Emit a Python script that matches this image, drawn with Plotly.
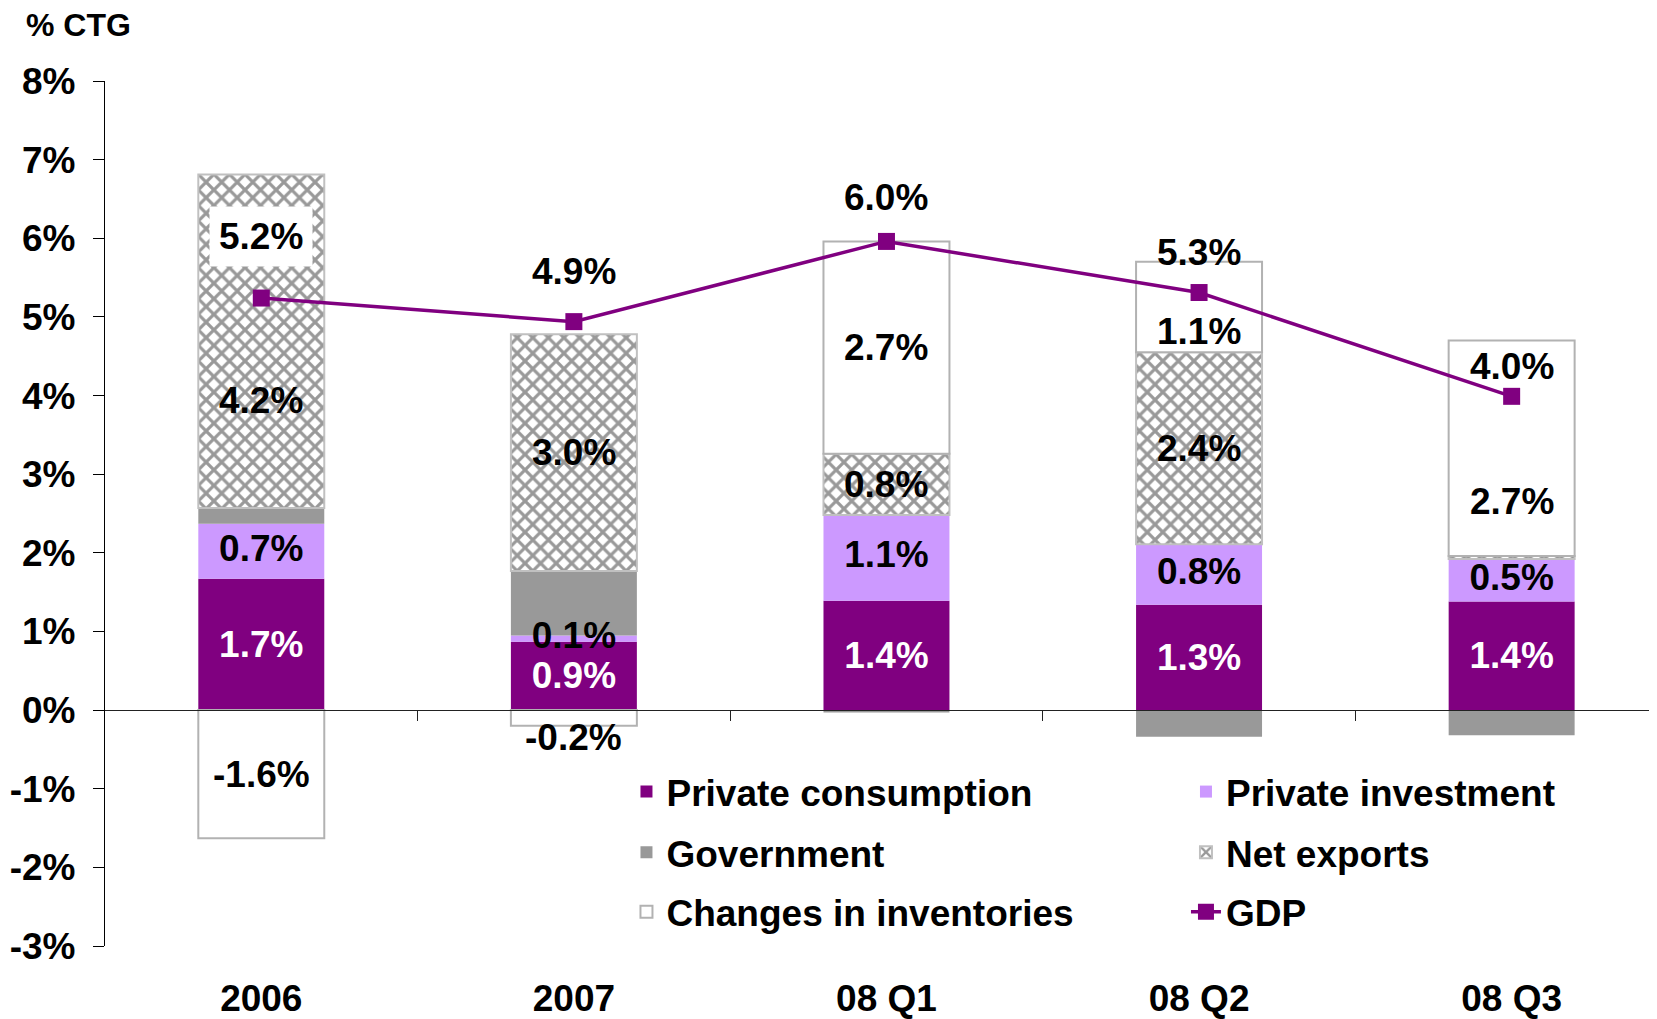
import plotly.graph_objects as go

# ---------------- data ----------------
categories = ["2006", "2007", "08 Q1", "08 Q2", "08 Q3"]
private_consumption = [1.67, 0.87, 1.39, 1.34, 1.38]
private_investment = [0.70, 0.08, 1.09, 0.77, 0.54]
government = [0.20, 0.82, -0.03, -0.34, -0.32]
net_exports = [4.24, 3.01, 0.78, 2.44, 0.04]
inventories = [-1.63, -0.20, 2.70, 1.15, 2.74]
gdp = [5.24, 4.94, 5.96, 5.31, 3.99]

y_tick_values = [-3, -2, -1, 0, 1, 2, 3, 4, 5, 6, 7, 8]
y_tick_labels = ["-3%", "-2%", "-1%", "0%", "1%", "2%", "3%", "4%", "5%", "6%", "7%", "8%"]

# ---------------- style ----------------
FONT = "Liberation Sans, Arial, sans-serif"
FS = 37
PURPLE = "#800080"
LILAC = "#CC99FF"
GREY = "#999999"

# label nudges in px (positive = up), mimicking the original label placement
gdp_label_shift = [62, 50, 44, 40, 30]
gdp_label_bg = ["white", "rgba(0,0,0,0)", "rgba(0,0,0,0)", "rgba(0,0,0,0)", "rgba(0,0,0,0)"]
nx_label_shift = [-59, 0, 0, 0, 0]
inv_label_shift = [0, -20, 0, -24, -53]


def labels(values):
    return ["" if abs(v) < 0.05 else f"{v:.1f}%" for v in values]


def bfont(color="black", size=FS):
    return dict(family=FONT, size=size, color=color, weight="bold")


def segment_centres(stack):
    """Centre of every segment of a relative (pos/neg) stacked bar chart."""
    n = len(stack[0])
    pos, neg = [0.0] * n, [0.0] * n
    out = []
    for series in stack:
        centres = []
        for i, v in enumerate(series):
            if v >= 0:
                centres.append(pos[i] + v / 2)
                pos[i] += v
            else:
                centres.append(neg[i] + v / 2)
                neg[i] += v
        out.append(centres)
    return out


stack = [private_consumption, private_investment, government, net_exports, inventories]
c_pc, c_pi, c_gov, c_nx, c_inv = segment_centres(stack)

idx = list(range(len(categories)))
fig = go.Figure()

common = dict(x=categories, constraintext="none", textangle=0,
              insidetextanchor="middle", hoverinfo="skip", cliponaxis=False)

fig.add_trace(go.Bar(name="Private consumption", y=private_consumption,
                     text=labels(private_consumption), textposition="inside",
                     insidetextfont=bfont("white"),
                     marker=dict(color=PURPLE, line=dict(width=0)),
                     legend="legend", **common))
fig.add_trace(go.Bar(name="Private investment", y=private_investment,
                     marker=dict(color=LILAC, line=dict(width=0)),
                     legend="legend2", **common))
fig.add_trace(go.Bar(name="Government", y=government,
                     marker=dict(color=GREY, line=dict(width=0)),
                     legend="legend3", **common))
fig.add_trace(go.Bar(name="Net exports", y=net_exports,
                     marker=dict(color="white",
                                 pattern=dict(shape="x", fgcolor=GREY, bgcolor="white",
                                              fgopacity=1, size=11, solidity=0.5,
                                              fillmode="overlay"),
                                 line=dict(color="#c0c0c0", width=2)),
                     legend="legend4", **common))
fig.add_trace(go.Bar(name="Changes in inventories", y=inventories,
                     marker=dict(color="white", line=dict(color="#b2b2b2", width=2)),
                     legend="legend5", **common))
fig.add_trace(go.Scatter(name="GDP", x=categories, y=gdp, mode="lines+markers",
                         line=dict(color=PURPLE, width=3.5),
                         marker=dict(symbol="square", size=17, color=PURPLE),
                         hoverinfo="skip", legend="legend6", cliponaxis=False))

# private-investment labels drawn on top of the whole stack
fig.add_trace(go.Scatter(x=categories, y=c_pi, text=labels(private_investment),
                         mode="text", textposition="middle center",
                         textfont=bfont("black"), showlegend=False,
                         hoverinfo="skip", cliponaxis=False))

# invisible helper trace so that the zero-line axis (x2) is drawn
fig.add_trace(go.Scatter(x=idx, y=gdp, xaxis="x2", mode="lines", opacity=0,
                         showlegend=False, hoverinfo="skip"))

# net exports / inventories segment labels
for centres, vals, shifts in [(c_nx, net_exports, nx_label_shift),
                              (c_inv, inventories, inv_label_shift)]:
    for i, yc, t, s in zip(idx, centres, labels(vals), shifts):
        if t:
            fig.add_annotation(x=i, y=yc, xref="x", yref="y", text=t,
                               showarrow=False, yshift=s, font=bfont("black"))

# GDP value labels
for i, v, s, bg in zip(idx, gdp, gdp_label_shift, gdp_label_bg):
    fig.add_annotation(x=i, y=v, xref="x", yref="y", text=f"{v:.1f}%",
                       showarrow=False, yshift=s, font=bfont("black"),
                       bgcolor=bg, borderpad=9)

XRANGE = [-0.5, 4.465]
legend_common = dict(orientation="h", xanchor="left", yanchor="middle",
                     bgcolor="rgba(0,0,0,0)", font=bfont("black"), itemclick=False)
COL1, COL2 = 0.336, 0.6965
ROWS = [0.178, 0.108, 0.039]

fig.update_layout(
    width=1649, height=1011,
    margin=dict(l=97, r=0, t=73, b=69),
    paper_bgcolor="white", plot_bgcolor="white",
    font=bfont("black"),
    barmode="relative", bargap=0.597,
    title=dict(text="% CTG", x=18 / 1649, xanchor="left", xref="container",
               y=1 - 17 / 1011, yanchor="middle", yref="container",
               font=bfont("black", 32)),
    xaxis=dict(type="category", range=XRANGE, showline=False, ticks="",
               showgrid=False, zeroline=False, tickfont=bfont("black"),
               ticklabelstandoff=27),
    xaxis2=dict(overlaying="x", anchor="free", position=3 / 11, range=XRANGE,
                showline=True, linecolor="#222222", linewidth=1.2,
                ticks="outside", ticklen=10, tickwidth=1.2, tickcolor="#222222",
                tickvals=[0.5, 1.5, 2.5, 3.5], showticklabels=False,
                showgrid=False, zeroline=False),
    yaxis=dict(range=[-3, 8], tickvals=y_tick_values, ticktext=y_tick_labels,
               showline=True, linecolor="black", linewidth=1.2,
               ticks="outside", ticklen=11, tickwidth=1.2, tickcolor="black",
               showgrid=False, zeroline=False, tickfont=bfont("black"),
               ticklabelstandoff=10),
    legend=dict(x=COL1, y=ROWS[0], **legend_common),
    legend2=dict(x=COL2, y=ROWS[0], **legend_common),
    legend3=dict(x=COL1, y=ROWS[1], **legend_common),
    legend4=dict(x=COL2, y=ROWS[1], **legend_common),
    legend5=dict(x=COL1, y=ROWS[2], **legend_common),
    legend6=dict(x=COL2, y=ROWS[2], **legend_common),
)

fig.write_html("out.html")
